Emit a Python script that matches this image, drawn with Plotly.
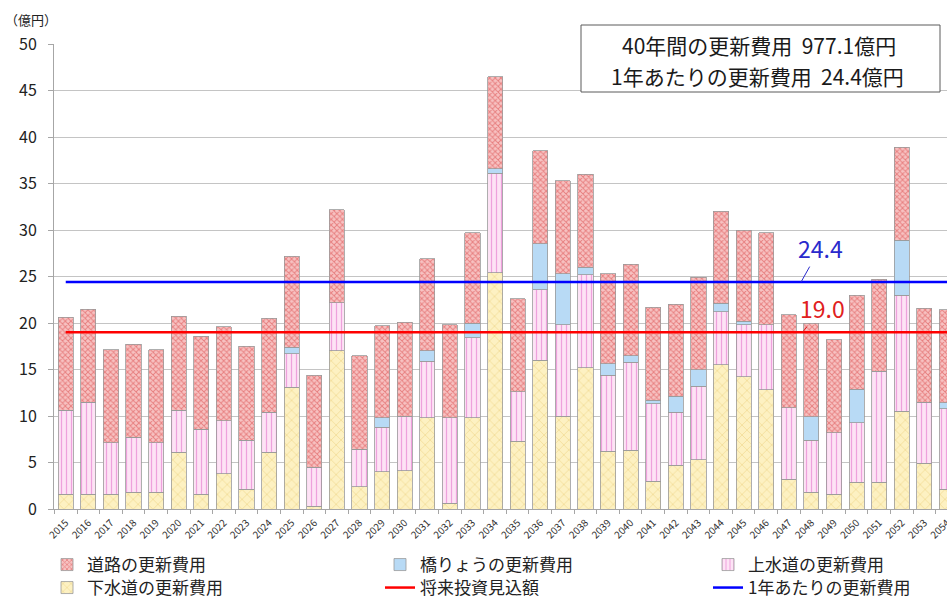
import plotly.graph_objects as go

years = ["2015", "2016", "2017", "2018", "2019", "2020", "2021", "2022", "2023", "2024",
         "2025", "2026", "2027", "2028", "2029", "2030", "2031", "2032", "2033", "2034",
         "2035", "2036", "2037", "2038", "2039", "2040", "2041", "2042", "2043", "2044",
         "2045", "2046", "2047", "2048", "2049", "2050", "2051", "2052", "2053", "2054"]

# 下水道 (bottom)
sewer = [1.6, 1.6, 1.6, 1.8, 1.8, 6.1, 1.6, 3.8, 2.1, 6.1,
         13.1, 0.3, 17.0, 2.4, 4.0, 4.1, 9.8, 0.6, 9.8, 25.4,
         7.3, 16.0, 10.0, 15.2, 6.2, 6.3, 3.0, 4.7, 5.3, 15.5,
         14.2, 12.8, 3.2, 1.8, 1.6, 2.9, 2.9, 10.5, 4.9, 2.1]
# 上水道
water = [9.0, 9.9, 5.5, 5.9, 5.3, 4.5, 7.0, 5.7, 5.3, 4.3,
         3.6, 4.2, 5.2, 4.0, 4.8, 5.9, 6.1, 9.2, 8.6, 10.7,
         5.3, 7.6, 9.8, 10.0, 8.2, 9.5, 8.3, 5.7, 7.9, 5.7,
         5.6, 7.0, 7.7, 5.6, 6.6, 6.4, 11.9, 12.5, 6.6, 8.7]
# 橋りょう
bridge = [0, 0, 0, 0, 0, 0, 0, 0, 0, 0,
          0.7, 0, 0, 0, 1.0, 0, 1.1, 0, 1.6, 0.5,
          0, 4.9, 5.5, 0.8, 1.2, 0.7, 0.4, 1.7, 1.8, 0.9,
          0.4, 0, 0, 2.5, 0, 3.6, 0, 5.9, 0, 0.6]
# 道路 (top)
road = [10.0, 10.0, 10.0, 10.0, 10.0, 10.1, 10.0, 10.1, 10.1, 10.1,
        9.8, 9.9, 10.0, 10.1, 9.9, 10.1, 9.9, 10.0, 9.7, 9.9,
        10.0, 10.0, 10.0, 10.0, 9.7, 9.8, 10.0, 9.9, 9.9, 9.9,
        9.8, 9.9, 10.0, 10.1, 10.0, 10.1, 9.9, 10.0, 10.1, 10.0]

future_investment = [19.0] * len(years)   # 将来投資見込額
annual_renewal = [24.4] * len(years)      # 1年あたりの更新費用

yticks = [0, 5, 10, 15, 20, 25, 30, 35, 40, 45, 50]

FONT = "Noto Sans CJK JP"
OUTLINE = dict(color="#9a9a9a", width=0.8)

fig = go.Figure()

fig.add_trace(go.Bar(
    x=years, y=sewer, name="下水道の更新費用", legend="legend4",
    marker=dict(color="#fcefbb", line=OUTLINE,
                pattern=dict(shape="x", fgcolor="#dcb84a", bgcolor="#fdf1c2",
                             size=7, solidity=0.16)),
))
fig.add_trace(go.Bar(
    x=years, y=water, name="上水道の更新費用", legend="legend3",
    marker=dict(color="#fde3f5", line=OUTLINE,
                pattern=dict(shape="|", fgcolor="#e060c4", bgcolor="#fde3f5",
                             size=5, solidity=0.25)),
))
fig.add_trace(go.Bar(
    x=years, y=bridge, name="橋りょうの更新費用", legend="legend2",
    marker=dict(color="#b8daf5", line=OUTLINE),
))
fig.add_trace(go.Bar(
    x=years, y=road, name="道路の更新費用", legend="legend",
    marker=dict(color="#f2aaaa", line=OUTLINE,
                pattern=dict(shape="x", fgcolor="#d63c3c", bgcolor="#f7c2c2",
                             size=4, solidity=0.42)),
))
fig.add_trace(go.Scatter(
    x=years, y=future_investment, name="将来投資見込額", legend="legend5",
    mode="lines", line=dict(color="#ff0000", width=2.5),
))
fig.add_trace(go.Scatter(
    x=years, y=annual_renewal, name="1年あたりの更新費用", legend="legend6",
    mode="lines", line=dict(color="#0000ff", width=2.5),
))

PL, PT, PB, W, H = 54, 44, 90, 947, 599
PW = W - PL
PHt = H - PT - PB


def px_x(p):
    return (p - PL) / PW


def px_y(p):
    return (H - PB - p) / PHt


legend_font = dict(family=FONT, size=17, color="#222222")
row1, row2 = px_y(565), px_y(588)
cols = [px_x(47), px_x(380), px_x(708)]
leg_common = dict(bgcolor="rgba(0,0,0,0)", font=legend_font, yanchor="middle",
                  xanchor="left", orientation="v")

fig.update_layout(
    width=W, height=H,
    margin=dict(l=PL, r=0, t=PT, b=PB, pad=0, autoexpand=False),
    paper_bgcolor="white", plot_bgcolor="white",
    barmode="stack", bargap=0.33,
    font=dict(family=FONT, color="#222222"),
    showlegend=True,
    legend=dict(x=cols[0], y=row1, **leg_common),
    legend2=dict(x=cols[1], y=row1, **leg_common),
    legend3=dict(x=cols[2], y=row1, **leg_common),
    legend4=dict(x=cols[0], y=row2, **leg_common),
    legend5=dict(x=cols[1], y=row2, **leg_common),
    legend6=dict(x=cols[2], y=row2, **leg_common),
    xaxis=dict(
        type="category", range=[-0.52, 39.0], automargin=False,
        tickangle=-45, tickfont=dict(family=FONT, size=10, color="#333333"),
        ticklabelstandoff=3,
        showline=True, linecolor="#a6a6a6", linewidth=1,
        ticks="outside", tickson="boundaries", ticklen=4, tickcolor="#a6a6a6",
        showgrid=False, fixedrange=True,
    ),
    yaxis=dict(
        range=[0, 50], tickvals=yticks, automargin=False,
        tickfont=dict(family=FONT, size=16, color="#222222"),
        ticklabelstandoff=8,
        showline=True, linecolor="#a6a6a6", linewidth=1,
        ticks="outside", ticklen=5, tickcolor="#a6a6a6",
        showgrid=True, gridcolor="#c4c4c4", gridwidth=1,
        zeroline=False, fixedrange=True,
    ),
)

# summary box
fig.add_shape(type="rect", xref="paper", yref="paper",
              x0=px_x(581), x1=px_x(940), y0=px_y(92), y1=px_y(25),
              line=dict(color="#5a5a5a", width=1), fillcolor="white", layer="above")

annotations = [
    dict(text="（億円）", xref="paper", yref="paper", x=px_x(3), y=px_y(19),
         xanchor="left", yanchor="middle", showarrow=False,
         font=dict(family=FONT, size=13, color="#222222")),
    dict(text="40年間の更新費用\u00a0\u00a0977.1億円", xref="paper", yref="paper",
         x=px_x(759), y=px_y(45), xanchor="center", yanchor="middle", showarrow=False,
         font=dict(family=FONT, size=21, color="#1a1a1a")),
    dict(text="1年あたりの更新費用\u00a0\u00a024.4億円", xref="paper", yref="paper",
         x=px_x(757), y=px_y(76), xanchor="center", yanchor="middle", showarrow=False,
         font=dict(family=FONT, size=21, color="#1a1a1a")),
    dict(text="24.4", x=32.54, y=annual_renewal[0], xref="x", yref="y",
         showarrow=True, arrowhead=0, arrowwidth=1, arrowcolor="#2a2acc",
         ax=19, ay=-34, standoff=0,
         font=dict(family=FONT, size=23, color="#2a2acc")),
    dict(text="19.0", x=32.6, y=future_investment[0], xref="x", yref="y",
         showarrow=True, arrowhead=0, arrowwidth=1, arrowcolor="#e02020",
         ax=20, ay=-24, standoff=0,
         font=dict(family=FONT, size=23, color="#e02020")),
]
fig.update_layout(annotations=annotations)

fig.write_html(
    "out.html",
    config={"displayModeBar": False},
    post_script="document.body.style.margin='0';document.body.style.padding='0';"
                "document.body.style.overflow='hidden';",
)
